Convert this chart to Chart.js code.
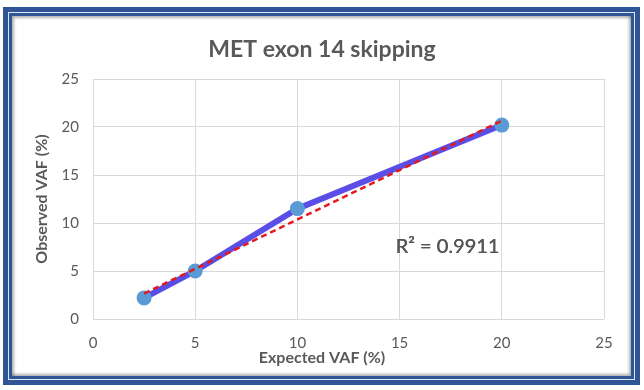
<!DOCTYPE html>
<html>
<head>
<meta charset="utf-8">
<script src="https://cdn.jsdelivr.net/npm/chart.js@4.4.1/dist/chart.umd.min.js"></script>
<style>
  html, body { margin: 0; padding: 0; background: #fff; }
  #wrap { position: relative; width: 644px; height: 390px; overflow: hidden; }
  /* bingkai biru ganda ala Excel */
  .frame-outer {
    position: absolute; left: 3px; top: 7px; width: 637px; height: 378px;
    box-sizing: border-box; border: 5px solid #2f5597; background: #dbe6f4;
  }
  .frame-inner {
    position: absolute; left: 1px; top: 1px; right: 1px; bottom: 1px;
    box-sizing: border-box; border: 3px solid #2f5597; background: #fff;
    box-shadow: inset 2px 2px 3px rgba(0,0,0,0.3), inset -2px -2px 3px rgba(0,0,0,0.3);
  }
  canvas { position: absolute; left: 0; top: 0; }
</style>
</head>
<body>
<div id="wrap">
  <div class="frame-outer"><div class="frame-inner"></div></div>
  <canvas id="vafChart" width="644" height="390"></canvas>
</div>
<script>
// Data VAF
const expectedVaf = [2.5, 5, 10, 20];
const observedVaf = [2.2, 5.0, 11.5, 20.2];
const axisMin = 0;
const axisMax = 25;
const axisStep = 5;
const chartTitle = 'MET exon 14 skipping';
const xTitle = 'Expected VAF (%)';
const yTitle = 'Observed VAF (%)';
const rSquaredLabel = 'R\u00B2 = 0.9911';

const textGrey = '#595959';
const fontFamily = 'Lato, "Open Sans", sans-serif';

// garis tren linear (least squares) dari data
function linearFit(xs, ys) {
    const n = xs.length;
    const mx = xs.reduce((a, b) => a + b, 0) / n;
    const my = ys.reduce((a, b) => a + b, 0) / n;
    let sxy = 0, sxx = 0;
    for (let i = 0; i < n; i++) {
        sxy += (xs[i] - mx) * (ys[i] - my);
        sxx += (xs[i] - mx) * (xs[i] - mx);
    }
    const slope = sxy / sxx;
    return { slope, intercept: my - slope * mx };
}
const fit = linearFit(expectedVaf, observedVaf);
const trendX = [Math.min(...expectedVaf), Math.max(...expectedVaf)];
const trendPoints = trendX.map(x => ({ x, y: fit.slope * x + fit.intercept }));

const points = expectedVaf.map((x, i) => ({ x, y: observedVaf[i] }));

// label R² di posisi skala
const rLabelAt = { x: 14.8, y: 7.5 };
const rSquaredPlugin = {
    id: 'rSquared',
    afterDatasetsDraw(chart) {
        const { ctx, scales } = chart;
        ctx.save();
        ctx.font = '20px ' + fontFamily;
        ctx.fillStyle = '#555555';
        ctx.textBaseline = 'middle';
        ctx.textAlign = 'left';
        const px = scales.x.getPixelForValue(rLabelAt.x);
        const py = scales.y.getPixelForValue(rLabelAt.y);
        // sedikit ditebalkan seperti Calibri
        ctx.fillText(rSquaredLabel, px, py);
        ctx.fillText(rSquaredLabel, px + 0.4, py);
        ctx.restore();
    }
};

new Chart(document.getElementById('vafChart'), {
    type: 'scatter',
    data: {
        datasets: [
            {
                label: 'Trendline',
                data: trendPoints,
                showLine: true,
                borderColor: '#e3191c',
                borderWidth: 2.5,
                borderDash: [6, 4],
                pointRadius: 0,
                order: 0,
            },
            {
                label: 'Observed',
                data: points,
                showLine: true,
                borderColor: '#5a4ee6',
                borderWidth: 6,
                backgroundColor: '#5b9bd5',
                pointBackgroundColor: '#5b9bd5',
                pointBorderColor: '#5b9bd5',
                pointRadius: 4.5,
                order: 1,
            },
        ],
    },
    options: {
        responsive: false,
        animation: false,
        layout: { padding: { left: 40, right: 40, top: 0, bottom: 0 } },
        plugins: {
            legend: { display: false },
            tooltip: { enabled: false },
            title: {
                display: true,
                text: chartTitle,
                color: textGrey,
                font: { family: fontFamily, size: 23, weight: 'bold', lineHeight: 1.2 },
                padding: { top: 36, bottom: 15.4 },
            },
            // judul sumbu X, dipusatkan pada seluruh grafik seperti Excel
            subtitle: {
                display: true,
                position: 'bottom',
                text: xTitle,
                color: textGrey,
                font: { family: fontFamily, size: 16, weight: 'bold', lineHeight: 1.2 },
                padding: { top: 0, bottom: 22.4 },
            },
        },
        scales: {
            x: {
                type: 'linear',
                min: axisMin,
                max: axisMax,
                ticks: {
                    stepSize: axisStep,
                    color: textGrey,
                    padding: 15,
                    font: { family: fontFamily, size: 15 },
                },
                grid: { color: '#d9d9d9', drawTicks: false },
                border: { display: false },
                afterFit(scale) { scale.height = 29.4; },
            },
            y: {
                type: 'linear',
                min: axisMin,
                max: axisMax,
                ticks: {
                    stepSize: axisStep,
                    color: textGrey,
                    padding: 14,
                    font: { family: fontFamily, size: 15 },
                },
                grid: { color: '#d9d9d9', drawTicks: false },
                border: { display: false },
                title: {
                    display: true,
                    text: yTitle,
                    color: textGrey,
                    font: { family: fontFamily, size: 16, weight: 'bold', lineHeight: 1.2 },
                    padding: { top: -7.6, bottom: 0 },
                },
                afterFit(scale) { scale.width = 53; },
            },
        },
    },
    plugins: [rSquaredPlugin],
});
</script>
</body>
</html>
